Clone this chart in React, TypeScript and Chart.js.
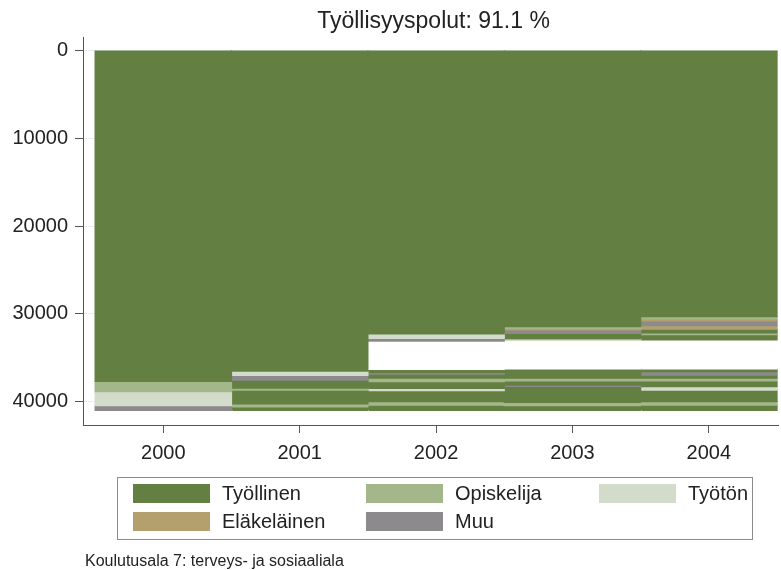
import React, { useEffect, useRef } from "react";
import { Chart, registerables } from "chart.js";

Chart.register(...registerables);

const FONT = "'Liberation Sans', Arial, Helvetica, sans-serif";
const TITLE = "Työllisyyspolut: 91.1 %";
const NOTE = "Koulutusala 7: terveys- ja sosiaaliala";

const YEARS = [2000, 2001, 2002, 2003, 2004];
const Y_TICKS = [0, 10000, 20000, 30000, 40000];

// state codes: 0 Työllinen, 1 Opiskelija, 2 Työtön, 3 Eläkeläinen, 4 Muu, 5 puuttuu (blank)
const STATE_NAMES = ["Työllinen", "Opiskelija", "Työtön", "Eläkeläinen", "Muu", ""];
const STATE_COLORS = ["#647f42", "#a3b78b", "#d3dccb", "#b3a06d", "#8c8a8d", "#ffffff"];
const LEGEND_ORDER = [0, 1, 2, 3, 4];

// segments, top to bottom (number of persons in each band)
const states2000 = [0, 1, 2, 4];
const sizes2000 = [37700, 1160, 1600, 540];
const states2001 = [0, 2, 4, 0, 1, 0, 1, 0];
const sizes2001 = [36530, 460, 550, 910, 230, 1580, 340, 400];
const states2002 = [0, 2, 4, 5, 0, 4, 0, 1, 0, 2, 0, 1, 0];
const sizes2002 = [32280, 500, 310, 3220, 390, 150, 480, 390, 750, 280, 1250, 380, 620];
const states2003 = [0, 1, 3, 4, 0, 1, 5, 0, 1, 0, 4, 0, 1, 0];
const sizes2003 = [31450, 200, 180, 380, 590, 170, 3300, 1060, 310, 460, 150, 1820, 390, 540];
const states2004 = [0, 1, 3, 4, 3, 0, 1, 0, 5, 0, 4, 0, 1, 0, 2, 0, 1, 0];
const sizes2004 = [30310, 260, 230, 540, 380, 430, 200, 620, 3300, 310, 380, 370, 310, 650, 380, 1330, 380, 620];

const COLUMNS: [number[], number[]][] = [
  [states2000, sizes2000],
  [states2001, sizes2001],
  [states2002, sizes2002],
  [states2003, sizes2003],
  [states2004, sizes2004],
];

function buildDatasets() {
  const maxLen = Math.max(...COLUMNS.map((c) => c[1].length));
  const sets: any[] = [];
  for (let k = 0; k < maxLen; k++) {
    sets.push({
      label: "band " + k,
      data: COLUMNS.map(([, z]) => (z[k] !== undefined ? z[k] : 0)),
      backgroundColor: COLUMNS.map(([s]) => STATE_COLORS[s[k] !== undefined ? s[k] : 5]),
      borderWidth: 0,
      inflateAmount: 0.6,
      barPercentage: 1,
      categoryPercentage: 1,
    });
  }
  return sets;
}

const titlePlugin = {
  id: "customTitle",
  afterDraw(chart: any) {
    const { ctx, chartArea } = chart;
    ctx.save();
    ctx.font = "23px " + FONT;
    ctx.fillStyle = "#222";
    ctx.textAlign = "center";
    ctx.textBaseline = "alphabetic";
    ctx.fillText(TITLE, (chartArea.left + chartArea.right) / 2 + 3, 28);
    ctx.restore();
  },
};

export default function App() {
  const ref = useRef<HTMLCanvasElement>(null);

  useEffect(() => {
    const chart = new Chart(ref.current as HTMLCanvasElement, {
      type: "bar",
      data: { labels: YEARS, datasets: buildDatasets() },
      plugins: [titlePlugin],
      options: {
        animation: false,
        responsive: false,
        devicePixelRatio: 1,
        layout: { padding: { left: 0, right: 3, top: 37, bottom: 0 } },
        plugins: { legend: { display: false }, title: { display: false }, tooltip: { enabled: false } },
        scales: {
          x: {
            type: "linear",
            stacked: true,
            offset: false,
            min: 1999.411,
            max: 2004.507,
            afterBuildTicks: (s: any) => {
              s.ticks = YEARS.map((v) => ({ value: v }));
            },
            afterFit: (s: any) => {
              s.height = 145;
            },
            grid: { display: true, offset: false, drawOnChartArea: false, drawTicks: true, tickLength: 8, tickColor: "#555" },
            border: { display: true, color: "#555", width: 1 },
            ticks: {
              color: "#222",
              font: { family: FONT, size: 20 },
              padding: 8,
              maxRotation: 0,
              autoSkip: false,
              callback: (v: any) => String(v),
            },
          },
          y: {
            type: "linear",
            stacked: true,
            reverse: true,
            min: -1561,
            max: 42655,
            afterBuildTicks: (s: any) => {
              s.ticks = Y_TICKS.map((v) => ({ value: v }));
            },
            afterFit: (s: any) => {
              s.width = 83;
            },
            grid: { display: true, drawOnChartArea: true, color: "#e6edf3", drawTicks: true, tickLength: 8, tickColor: "#555" },
            border: { display: true, color: "#555", width: 1 },
            ticks: {
              color: "#222",
              font: { family: FONT, size: 20 },
              padding: 7,
              autoSkip: false,
              callback: (v: any) => String(v),
            },
          },
        },
      },
    } as any);
    return () => chart.destroy();
  }, []);

  const swatchLeft = [133, 366, 599];
  const rowTop = [484, 512];

  return (
    <div
      style={{
        position: "absolute",
        left: 0,
        top: 0,
        width: 781,
        height: 570,
        background: "#fff",
        fontFamily: FONT,
        overflow: "hidden",
      }}
    >
      <canvas ref={ref} width={781} height={570} style={{ position: "absolute", left: 0, top: 0, width: 781, height: 570 }} />
      <div
        style={{
          position: "absolute",
          left: 117,
          top: 477,
          width: 636,
          height: 63,
          border: "1px solid #8c8c8c",
          boxSizing: "border-box",
        }}
      />
      {LEGEND_ORDER.map((st, i) => {
        const col = i % 3;
        const row = Math.floor(i / 3);
        const left = swatchLeft[col];
        const top = rowTop[row];
        return (
          <React.Fragment key={st}>
            <div
              style={{
                position: "absolute",
                left,
                top,
                width: 77,
                height: 19,
                background: STATE_COLORS[st],
              }}
            />
            <div
              style={{
                position: "absolute",
                left: left + 89,
                top: top - 3,
                height: 25,
                lineHeight: "25px",
                fontSize: 20,
                color: "#222",
                whiteSpace: "nowrap",
              }}
            >
              {STATE_NAMES[st]}
            </div>
          </React.Fragment>
        );
      })}
      <div
        style={{
          position: "absolute",
          left: 85,
          top: 551,
          lineHeight: "20px",
          fontSize: 16,
          color: "#222",
          whiteSpace: "nowrap",
        }}
      >
        {NOTE}
      </div>
    </div>
  );
}
